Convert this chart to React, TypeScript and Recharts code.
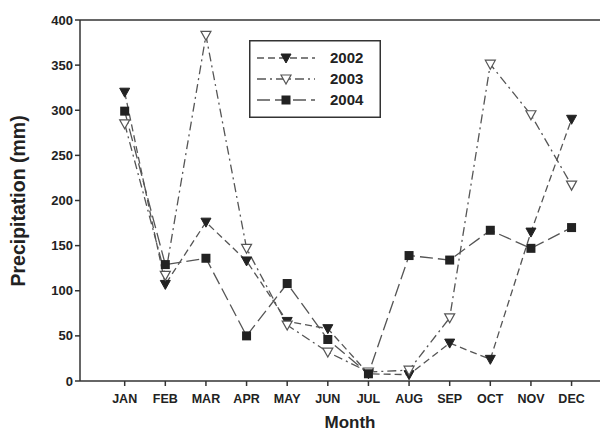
import React from 'react'
import { LineChart, Line, XAxis, YAxis, ReferenceLine } from 'recharts'

const months = ['JAN', 'FEB', 'MAR', 'APR', 'MAY', 'JUN', 'JUL', 'AUG', 'SEP', 'OCT', 'NOV', 'DEC']
const y2002 = [320, 107, 176, 133, 66, 58, 8, 7, 42, 24, 165, 290]
const y2003 = [285, 117, 383, 147, 62, 32, 10, 12, 70, 351, 295, 217]
const y2004 = [299, 129, 136, 50, 108, 46, 8, 139, 134, 167, 147, 170]
const yTicks = [0, 50, 100, 150, 200, 250, 300, 350, 400]

const data = months.map((m, i) => ({ i, m, a: y2002[i], b: y2003[i], c: y2004[i] }))

const font = 'Arial, "Liberation Sans", Helvetica, sans-serif'

function TriFilled(props: any) {
  const { cx, cy } = props
  if (cx == null || cy == null) return null
  return <path d={`M${cx - 5},${cy - 4} L${cx + 5},${cy - 4} L${cx},${cy + 5} Z`} fill="#222" stroke="#222" />
}

function TriOpen(props: any) {
  const { cx, cy } = props
  if (cx == null || cy == null) return null
  return <path d={`M${cx - 5},${cy - 4} L${cx + 5},${cy - 4} L${cx},${cy + 5} Z`} fill="#fff" stroke="#555" strokeWidth={1.2} />
}

function Square(props: any) {
  const { cx, cy } = props
  if (cx == null || cy == null) return null
  return <rect x={cx - 4.5} y={cy - 4.5} width={9} height={9} fill="#222" />
}

const series = [
  { key: 'a', name: '2002', dash: '7 4', dot: TriFilled },
  { key: 'b', name: '2003', dash: '9 4 2 4', dot: TriOpen },
  { key: 'c', name: '2004', dash: '13 5', dot: Square },
]

function LegendBox() {
  return (
    <svg width={132} height={78}>
      <rect x={0.75} y={0.75} width={130.5} height={76.5} fill="#fff" stroke="#333" strokeWidth={1.5} />
      {series.map((s, k) => {
        const y = 18 + k * 21
        const D = s.dot
        return (
          <g key={s.key}>
            <line x1={8} x2={66} y1={y} y2={y} stroke="#555" strokeWidth={1.3} strokeDasharray={s.dash} />
            <D cx={37} cy={y} />
            <text x={81} y={y + 5} fontSize={15} fontWeight="bold" fill="#222" fontFamily={font}>{s.name}</text>
          </g>
        )
      })}
    </svg>
  )
}

export default function App() {
  return (
    <div style={{ position: 'absolute', left: 0, top: 0, width: 600, height: 434, background: '#fff' }}>
      <LineChart width={600} height={434} data={data} margin={{ top: 20, right: 0, left: 0, bottom: 0 }}>
        <XAxis
          dataKey="i"
          type="number"
          domain={[-1.1, 11.7]}
          ticks={months.map((_, i) => i)}
          tickFormatter={(v: number) => months[v]}
          height={53}
          stroke="#333"
          strokeWidth={1.5}
          tickSize={5}
          tick={{ fontSize: 12.5, fontWeight: 'bold', fill: '#222', fontFamily: font, dy: 6 }}
          label={{ value: 'Month', position: 'insideBottom', offset: 6, fontSize: 17, fontWeight: 'bold', fill: '#222', fontFamily: font, dx: 10 }}
          allowDataOverflow
        />
        <YAxis
          domain={[0, 400]}
          ticks={yTicks}
          width={80}
          stroke="#333"
          strokeWidth={1.5}
          tickSize={5}
          tick={{ fontSize: 13, fontWeight: 'bold', fill: '#222', fontFamily: font }}
          label={{ value: 'Precipitation (mm)', angle: -90, position: 'insideLeft', offset: 18, fontSize: 19.5, fontWeight: 'bold', fill: '#222', fontFamily: font, dy: 86 }}
        />
        <ReferenceLine y={400} stroke="#333" strokeWidth={1.5} />
        {series.map((s) => (
          <Line
            key={s.key}
            dataKey={s.key}
            name={s.name}
            type="linear"
            stroke="#555"
            strokeWidth={1.3}
            strokeDasharray={s.dash}
            dot={<s.dot />}
            activeDot={false}
            isAnimationActive={false}
          />
        ))}
      </LineChart>
      <div style={{ position: 'absolute', left: 249, top: 40 }}>
        <LegendBox />
      </div>
    </div>
  )
}
